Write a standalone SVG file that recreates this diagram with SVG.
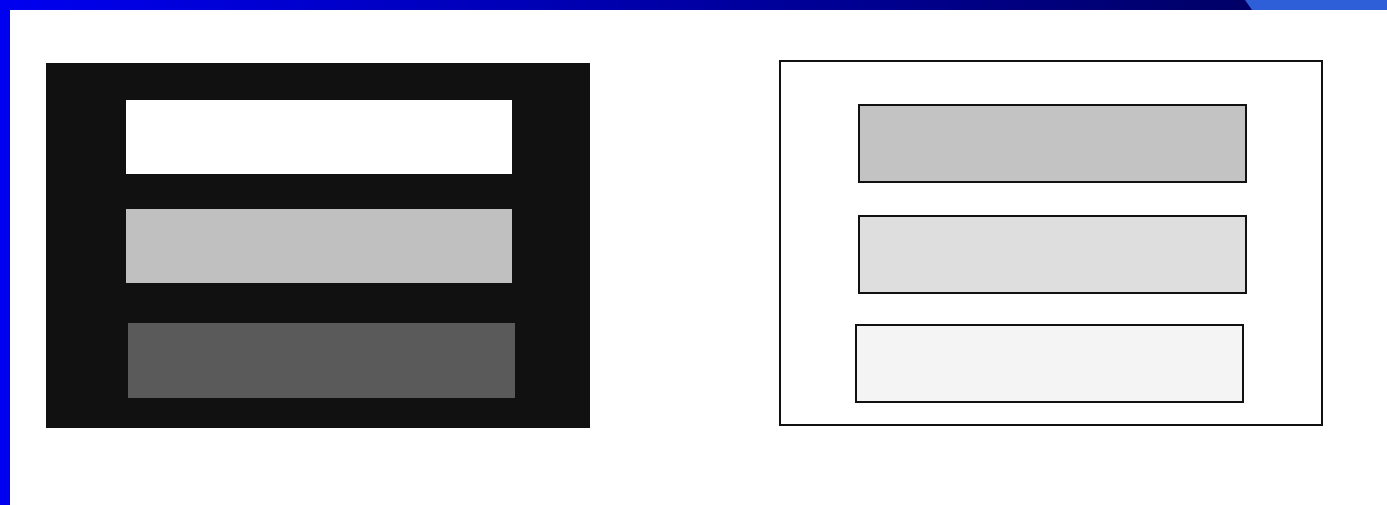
<svg xmlns="http://www.w3.org/2000/svg" width="1387" height="505" viewBox="0 0 1387 505">
<defs>
<linearGradient id="topbar" x1="0" y1="0" x2="1" y2="0">
<stop offset="0" stop-color="#0000f0"/>
<stop offset="1" stop-color="#000066"/>
</linearGradient>
</defs>
<style>
.bar{stroke:#111;stroke-width:2}
</style>
<rect x="0" y="0" width="1387" height="505" fill="#ffffff"/>
<g id="frame">
<rect x="0" y="0" width="1252" height="10" fill="url(#topbar)"/>
<polygon points="1245,0 1387,0 1387,10 1252,10" fill="#2f5ed9"/>
<rect x="0" y="0" width="10" height="505" fill="#0000f0"/>
</g>
<g id="left-panel">
<rect x="46" y="63" width="544" height="365" fill="#111111"/>
<rect id="left-bar-1" x="126" y="100" width="386" height="74" fill="#ffffff"/>
<rect id="left-bar-2" x="126" y="209" width="386" height="74" fill="#c0c0c0"/>
<rect id="left-bar-3" x="128" y="323" width="387" height="75" fill="#5a5a5a"/>
</g>
<g id="right-panel">
<rect x="780" y="61" width="542" height="364" fill="#ffffff" stroke="#111" stroke-width="2"/>
<rect id="right-bar-1" class="bar" x="859" y="105" width="387" height="77" fill="#c3c3c3"/>
<rect id="right-bar-2" class="bar" x="859" y="216" width="387" height="77" fill="#dedede"/>
<rect id="right-bar-3" class="bar" x="856" y="325" width="387" height="77" fill="#f4f4f4"/>
</g>
<g id="connectors"/>
</svg>
